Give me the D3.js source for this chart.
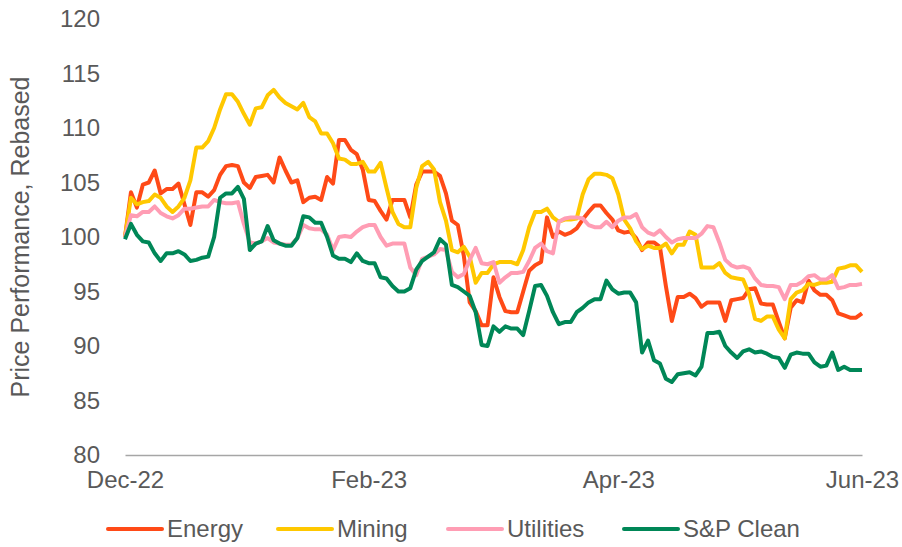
<!DOCTYPE html>
<html>
<head>
<meta charset="utf-8">
<script src="https://cdn.jsdelivr.net/npm/d3@7"></script>
<style>
  body { margin: 0; background: #fff; }
  svg text { font-family: "Liberation Sans", Arial, sans-serif; fill: #595959; }
</style>
</head>
<body>
<div id="chart"></div>
<script>
// series names and colours
const seriesNames = ["Energy", "Mining", "Utilities", "S&P Clean"];
const seriesColors = ["#ff4a17", "#ffc800", "#ff9db4", "#008757"];

// x axis labels and the data index each one sits on
const tickLabels = ["Dec-22", "Feb-23", "Apr-23", "Jun-23"];
const tickIndex = [0, 41, 83, 124];

// y axis ticks
const yTicks = [80, 85, 90, 95, 100, 105, 110, 115, 120];

// values (rebased to 100)
const energy = [
  100, 104.1, 102.7, 104.8, 105, 106.1, 104, 104.4, 104.4, 104.9,
  103, 101.1, 104.1, 104.1, 103.7, 104.3, 105.7, 106.5, 106.6, 106.5,
  105, 104.5, 105.5, 105.6, 105.7, 105, 107.3, 106.1, 105, 105.2,
  103.2, 103.6, 103.7, 103.4, 105.5, 104.9, 108.9, 108.9, 108, 107.6,
  106.2, 103.4, 103.3, 102.4, 101.6, 103.4, 103.4, 103.4, 101.8, 104.8,
  106, 106, 106, 105.6, 104, 101.5, 101.1, 98.3, 94, 93.2,
  91.9, 91.9, 96.3, 94.5, 93.2, 93.1, 93.1, 95, 96.9, 97.4,
  97.7, 101.8, 100, 100.5, 100.2, 100.4, 100.8, 101.6, 102.3, 102.9,
  102.9, 102.2, 101.6, 100.6, 100.4, 100.5, 99.9, 98.8, 99.5, 99.5,
  99.1, 95.5, 92.3, 94.5, 94.5, 94.8, 94.4, 93.6, 94, 94,
  94, 92.3, 94.2, 94.3, 94.4, 95.2, 95.3, 93.9, 93.8, 93.8,
  92.2, 90.7, 93.5, 94.2, 94, 96, 95.1, 94.7, 94.7, 94.2,
  93, 92.8, 92.6, 92.6, 93
];
const mining = [
  100, 103.6, 103, 103.2, 103.3, 103.9, 103.6, 102.8, 102.3, 102.8,
  103.6, 105.2, 108.2, 108.2, 108.8, 110, 111.7, 113.1, 113.1, 112.4,
  111.3, 110.3, 111.8, 111.9, 113, 113.5, 112.8, 112.3, 112, 111.7,
  112.3, 111, 110.6, 109.5, 109.5, 108.6, 107.2, 107.1, 106.7, 106.7,
  106.9, 106, 106, 106.8, 104.5, 102.3, 101.2, 100.9, 100.9, 104.5,
  106.5, 106.9, 106.2, 103.2, 101.5, 98.8, 98.6, 99.1, 98.2, 95.8,
  96.7, 96.7, 97.5, 97.7, 97.7, 97.7, 97.5, 98.8, 100.9, 102.3,
  102.3, 102.6, 101.8, 101.4, 101.6, 101.6, 101.7, 103.9, 105.3, 105.8,
  105.8, 105.7, 105.4, 103.9, 101.6, 100.8, 99.6, 98.9, 99.2, 99,
  99, 99.4, 98.5, 99.3, 99.3, 100.5, 100.2, 97.2, 97.2, 97.2,
  97.6, 96.7, 96.3, 96.2, 96.1, 94.8, 92.5, 92.3, 92.7, 92.7,
  91.5, 90.7, 94.3, 94.9, 95.1, 95.7, 95.6, 95.8, 95.8, 95.9,
  97.1, 97.2, 97.4, 97.4, 96.8
];
const utilities = [
  100, 102, 101.9, 102.3, 102.3, 102.8, 102.2, 101.9, 101.7, 102,
  102.6, 102.6, 102.7, 102.8, 102.8, 103.4, 103.2, 103.1, 103.1, 103.2,
  101.2, 99.5, 99.4, 99.6, 99.9, 99.5, 99.4, 99.3, 99.3, 99.9,
  101.1, 100.8, 100.7, 100.7, 100.2, 98.8, 100, 100.1, 100, 100.5,
  100.9, 101.1, 101.1, 100, 99.2, 99.4, 99.4, 99.4, 97.2, 96.5,
  98, 98.2, 98.4, 98.9, 98.8, 96.8, 96.3, 96.6, 97.9, 99,
  97.6, 97.5, 97.7, 95.8, 96.3, 96.7, 96.7, 96.8, 97.8, 99,
  99.4, 98.7, 98.5, 101.4, 101.7, 101.8, 101.8, 101.7, 101.1, 100.9,
  100.9, 101.4, 100.9, 101.5, 101.8, 101.8, 102.1, 100.9, 100.4, 100.2,
  100.6, 100, 99.5, 99.8, 99.9, 99.9, 99.9, 100.3, 101, 100.9,
  99.5, 97.9, 97.4, 97.2, 97.3, 97.1, 96.2, 95.6, 95.5, 95.5,
  95.4, 94.3, 95.6, 95.6, 95.9, 96.4, 96.5, 96.1, 96.1, 96.5,
  95.3, 95.4, 95.6, 95.6, 95.7
];
const spClean = [
  99.8, 101.2, 100.2, 99.6, 99.5, 98.5, 97.8, 98.5, 98.5, 98.7,
  98.4, 97.8, 97.9, 98.1, 98.2, 100, 103.6, 104, 104, 104.6,
  103.5, 98.8, 99.4, 99.6, 101, 99.7, 99.4, 99.2, 99.2, 99.9,
  101.9, 101.8, 101.3, 101.3, 100, 98.3, 98, 98, 97.7, 98.5,
  97.8, 97.6, 97.6, 96.3, 96.2, 95.5, 95, 95, 95.3, 97,
  97.8, 98.2, 98.6, 99.8, 99.3, 95.6, 95.4, 95, 94.6, 93.1,
  90.1, 90, 91.8, 91.3, 91.8, 91.6, 91.6, 91, 93.2, 95.5,
  95.6, 94.6, 93.1, 92, 92.2, 92.2, 93.1, 93.5, 94, 94.3,
  94.3, 96, 95.2, 94.8, 94.9, 94.9, 94, 89.4, 90.5, 88.7,
  88.4, 87, 86.7, 87.4, 87.5, 87.6, 87.3, 88.1, 91.2, 91.2,
  91.3, 90, 89.4, 88.9, 89.5, 89.7, 89.4, 89.5, 89.3, 89,
  88.9, 88, 89.2, 89.4, 89.3, 89.3, 88.5, 88.1, 88.2, 89.4,
  87.8, 88.1, 87.8, 87.8, 87.8
];

const seriesValues = [energy, mining, utilities, spClean];

const width = 902, height = 547;
const margin = {top: 19, right: 40, bottom: 92, left: 125};
const visWidth = width - margin.left - margin.right;
const visHeight = height - margin.top - margin.bottom;

const svg = d3.select("#chart").append("svg")
  .attr("width", width)
  .attr("height", height);

const g = svg.append("g")
  .attr("transform", `translate(${margin.left}, ${margin.top})`);

const x = d3.scaleLinear()
  .domain([0, energy.length - 1])
  .range([0, visWidth]);

const y = d3.scaleLinear()
  .domain([80, 120])
  .range([visHeight, 0]);

// y axis: labels only
g.append("g")
  .call(d3.axisLeft(y).tickValues(yTicks).tickSize(0).tickPadding(25))
  .call(a => a.select(".domain").remove())
  .call(a => a.selectAll("text").attr("font-size", 24).attr("fill", "#595959"));

// x axis
g.append("g")
  .attr("transform", `translate(0, ${visHeight})`)
  .call(d3.axisBottom(x).tickValues(tickIndex).tickFormat((d, i) => tickLabels[i]).tickSize(0).tickPadding(16))
  .call(a => a.select(".domain").attr("stroke", "#a6a6a6").attr("stroke-width", 1.5))
  .call(a => a.selectAll("text").attr("font-size", 24).attr("fill", "#595959"));

// y axis title
svg.append("text")
  .attr("transform", `translate(29, ${margin.top + visHeight / 2}) rotate(-90)`)
  .attr("text-anchor", "middle")
  .attr("font-size", 25)
  .text("Price Performance, Rebased");

// lines
const line = d3.line()
  .x((d, i) => x(i))
  .y(d => y(d));

g.selectAll(".series")
  .data(seriesValues)
  .join("path")
  .attr("class", "series")
  .attr("fill", "none")
  .attr("stroke", (d, i) => seriesColors[i])
  .attr("stroke-width", 4)
  .attr("stroke-linejoin", "round")
  .attr("d", line);

// legend
const legendX = [108, 278, 448, 624];
const legend = svg.append("g")
  .selectAll("g")
  .data(seriesNames)
  .join("g")
  .attr("transform", (d, i) => `translate(${legendX[i]}, 529)`);

legend.append("line")
  .attr("x1", 0).attr("x2", 54)
  .attr("stroke", (d, i) => seriesColors[i])
  .attr("stroke-width", 4)
  .attr("stroke-linecap", "round");

legend.append("text")
  .attr("x", 59)
  .attr("dy", "0.35em")
  .attr("font-size", 24)
  .text(d => d);
</script>
</body>
</html>
